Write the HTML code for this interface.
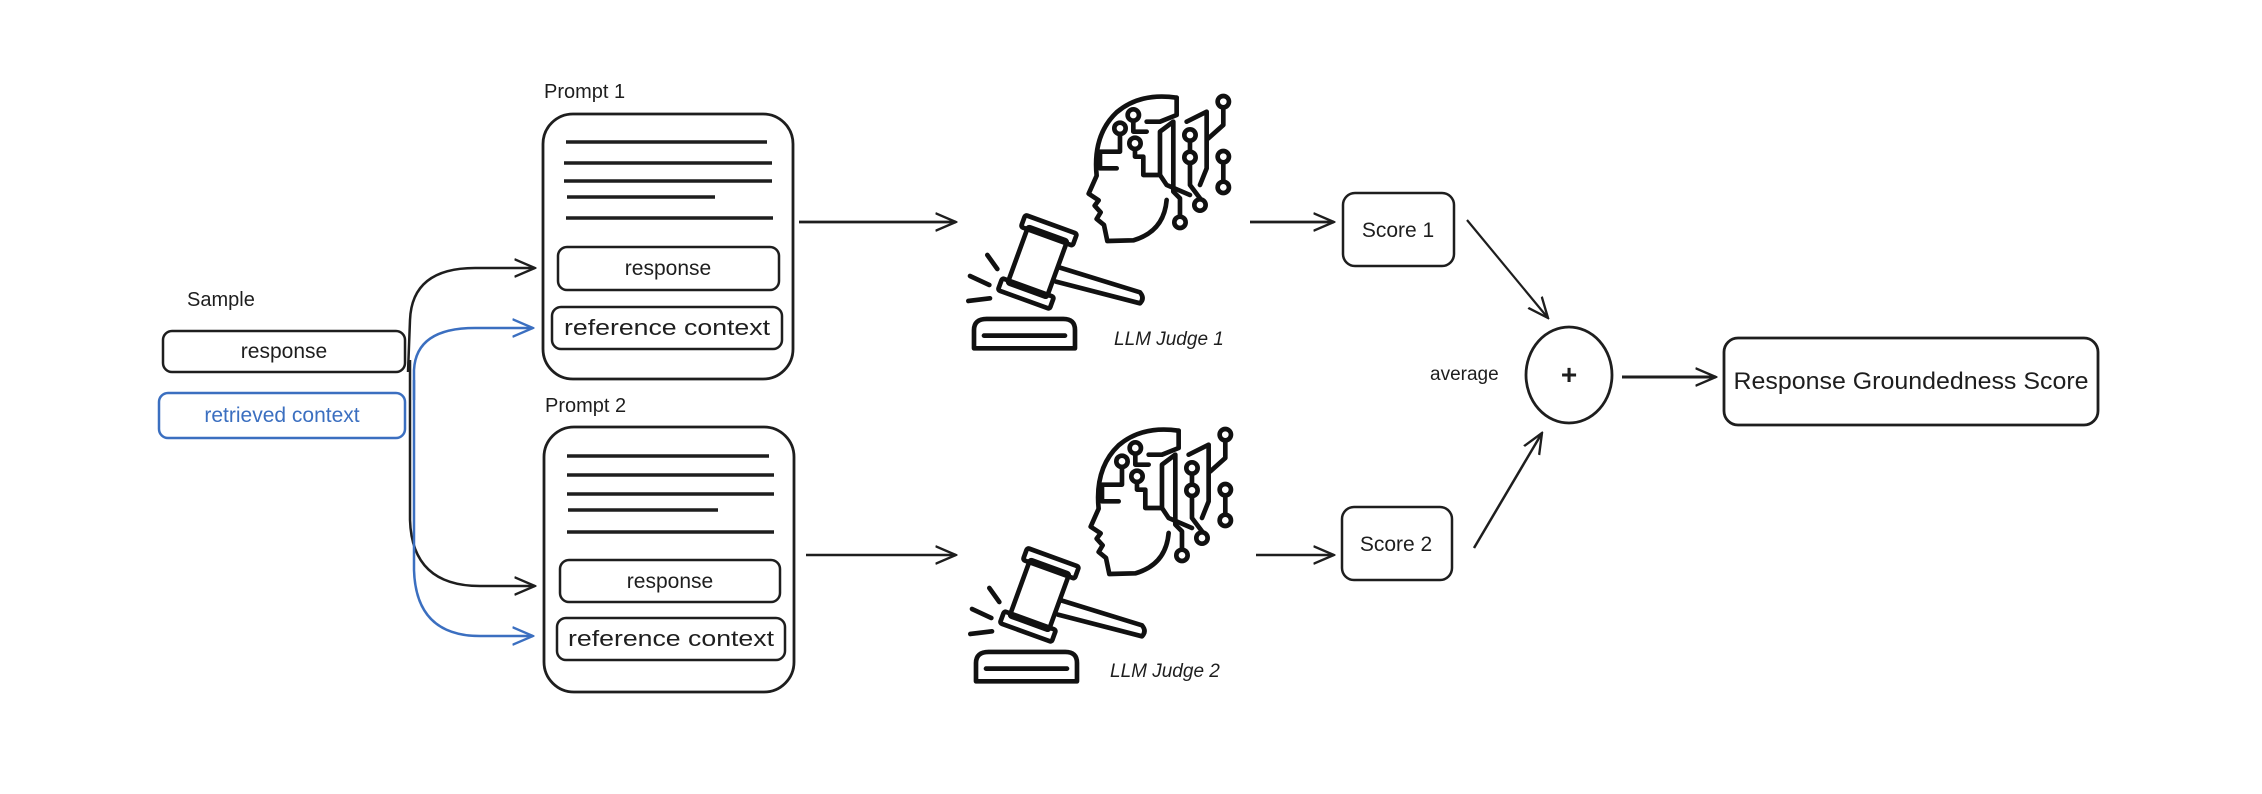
<!DOCTYPE html>
<html><head><meta charset="utf-8"><style>
html,body{margin:0;padding:0;background:#fff;}
svg{display:block;}
text{font-family:"Liberation Sans",sans-serif;fill:#1e1e1e;}
</style></head><body>
<svg width="2262" height="794" viewBox="0 0 2262 794" xmlns="http://www.w3.org/2000/svg">
<defs>
<g id="icons">
  <g fill="none" stroke="#111" stroke-width="14" stroke-linecap="round" stroke-linejoin="round">
    <path d="M620 345 Q612 440 520 466 L442 468 L432 420 L410 402 L422 382 L404 362 L416 346 L386 326 L410 272 Q398 150 470 82 Q540 22 650 38"/>
    <path d="M650 38 L650 90 L600 110 L560 110"/>
    <circle cx="520" cy="90" r="17"/>
    <path d="M520 107 L520 140 L560 140"/>
    <circle cx="480" cy="130" r="17"/>
    <path d="M480 147 L480 200 L420 200 L420 250 L470 250"/>
    <circle cx="525" cy="175" r="17"/>
    <path d="M525 192 L525 215 L550 215 L550 270 L600 270 L600 140 L640 110 L640 320 L660 340 L660 395"/>
    <circle cx="660" cy="412" r="17"/>
    <path d="M600 270 L620 300 L690 330"/>
    <circle cx="690" cy="150" r="17"/>
    <path d="M690 167 L690 200"/>
    <circle cx="690" cy="217" r="17"/>
    <path d="M690 234 L690 300 L720 340"/>
    <circle cx="720" cy="360" r="17"/>
    <path d="M680 110 L740 80 L740 250 L720 300"/>
    <circle cx="790" cy="50" r="17"/>
    <path d="M790 67 L790 120 L745 160"/>
    <circle cx="790" cy="215" r="17"/>
    <path d="M790 232 L790 290"/>
    <circle cx="790" cy="307" r="17"/>
  </g>
  <g fill="none" stroke="#111" stroke-width="14" stroke-linecap="round" stroke-linejoin="round">
    <g transform="rotate(20 230 530)">
      <rect x="170" y="440" width="125" height="180" rx="6"/>
      <rect x="150" y="410" width="165" height="38" rx="6"/>
      <rect x="150" y="612" width="165" height="38" rx="6"/>
    </g>
    <path d="M300 548 L540 622 Q555 640 540 655 L288 590"/>
    <path d="M82 510 L112 552"/>
    <path d="M30 573 L88 600"/>
    <path d="M25 648 L90 640"/>
    <path d="M42 790 L42 735 Q42 702 80 702 L310 702 Q345 702 345 735 L345 790 Z"/>
    <path d="M72 752 L315 752"/>
  </g>
</g>
<marker id="ahl" viewBox="0 0 30 30" refX="28" refY="15" markerWidth="22" markerHeight="22" markerUnits="userSpaceOnUse" orient="auto">
  <path d="M0 3 L28 15 L0 27" fill="none" stroke="context-stroke" stroke-width="3.2"/>
</marker>
<marker id="ahk" viewBox="0 0 30 30" refX="28" refY="15" markerWidth="22" markerHeight="22" markerUnits="userSpaceOnUse" orient="auto">
  <path d="M0 3 L28 15 L0 27" fill="none" stroke="#1e1e1e" stroke-width="3.2"/>
</marker>
<marker id="ahb" viewBox="0 0 30 30" refX="28" refY="15" markerWidth="22" markerHeight="22" markerUnits="userSpaceOnUse" orient="auto">
  <path d="M0 3 L28 15 L0 27" fill="none" stroke="#3b6fc0" stroke-width="3.2"/>
</marker>
</defs>

<text x="187" y="306" font-size="20">Sample</text>
<rect x="163" y="331" width="242" height="41" rx="9" fill="none" stroke="#1e1e1e" stroke-width="2.5"/>
<text x="284" y="358" font-size="21" text-anchor="middle">response</text>
<rect x="159" y="393" width="246" height="45" rx="9" fill="none" stroke="#3b6fc0" stroke-width="2.5"/>
<text x="282" y="422" font-size="21" text-anchor="middle" style="fill:#3b6fc0">retrieved context</text>

<path d="M408 372 L410 320 Q412 268 475 268 L535 268" fill="none" stroke="#1e1e1e" stroke-width="2.5" marker-end="url(#ahk)"/>
<path d="M410 360 L410 520 Q412 586 480 586 L535 586" fill="none" stroke="#1e1e1e" stroke-width="2.5" marker-end="url(#ahk)"/>
<path d="M414 400 L414 370 Q416 328 475 328 L533 328" fill="none" stroke="#3b6fc0" stroke-width="2.5" marker-end="url(#ahb)"/>
<path d="M414 380 L414 570 Q416 636 480 636 L533 636" fill="none" stroke="#3b6fc0" stroke-width="2.5" marker-end="url(#ahb)"/>

<text x="544" y="98" font-size="20">Prompt 1</text>
<rect x="543" y="114" width="250" height="265" rx="30" fill="none" stroke="#1e1e1e" stroke-width="2.8"/>
<g stroke="#1e1e1e" stroke-width="3.5">
<line x1="566" y1="142" x2="767" y2="142"/>
<line x1="564" y1="163" x2="772" y2="163"/>
<line x1="564" y1="181" x2="772" y2="181"/>
<line x1="567" y1="197" x2="715" y2="197"/>
<line x1="566" y1="218" x2="773" y2="218"/>
</g>
<rect x="558" y="247" width="221" height="43" rx="9" fill="none" stroke="#1e1e1e" stroke-width="2.5"/>
<text x="668" y="275" font-size="21" text-anchor="middle">response</text>
<rect x="552" y="307" width="230" height="42" rx="9" fill="none" stroke="#1e1e1e" stroke-width="2.5"/>
<text x="667" y="335" font-size="22" text-anchor="middle" textLength="206" lengthAdjust="spacingAndGlyphs">reference context</text>

<text x="545" y="412" font-size="20">Prompt 2</text>
<rect x="544" y="427" width="250" height="265" rx="30" fill="none" stroke="#1e1e1e" stroke-width="2.8"/>
<g stroke="#1e1e1e" stroke-width="3.5">
<line x1="567" y1="456" x2="769" y2="456"/>
<line x1="567" y1="475" x2="774" y2="475"/>
<line x1="567" y1="494" x2="774" y2="494"/>
<line x1="568" y1="510" x2="718" y2="510"/>
<line x1="567" y1="532" x2="774" y2="532"/>
</g>
<rect x="560" y="560" width="220" height="42" rx="9" fill="none" stroke="#1e1e1e" stroke-width="2.5"/>
<text x="670" y="588" font-size="21" text-anchor="middle">response</text>
<rect x="557" y="618" width="228" height="42" rx="9" fill="none" stroke="#1e1e1e" stroke-width="2.5"/>
<text x="671" y="646" font-size="22" text-anchor="middle" textLength="206" lengthAdjust="spacingAndGlyphs">reference context</text>

<line x1="799" y1="222" x2="956" y2="222" stroke="#1e1e1e" stroke-width="2.8" marker-end="url(#ahk)"/>
<line x1="806" y1="555" x2="956" y2="555" stroke="#1e1e1e" stroke-width="2.5" marker-end="url(#ahk)"/>

<g transform="translate(960,85) scale(0.3333)"><use href="#icons"/></g>
<g transform="translate(962,418) scale(0.3333)"><use href="#icons"/></g>
<text x="1114" y="345" font-size="19" font-style="italic">LLM Judge 1</text>
<text x="1110" y="677" font-size="19" font-style="italic">LLM Judge 2</text>

<line x1="1250" y1="222" x2="1334" y2="222" stroke="#1e1e1e" stroke-width="2.8" marker-end="url(#ahk)"/>
<line x1="1256" y1="555" x2="1334" y2="555" stroke="#1e1e1e" stroke-width="2.5" marker-end="url(#ahk)"/>

<rect x="1343" y="193" width="111" height="73" rx="12" fill="none" stroke="#1e1e1e" stroke-width="2.5"/>
<text x="1398" y="237" font-size="21" text-anchor="middle">Score 1</text>
<rect x="1342" y="507" width="110" height="73" rx="12" fill="none" stroke="#1e1e1e" stroke-width="2.5"/>
<text x="1396" y="551" font-size="21" text-anchor="middle">Score 2</text>

<line x1="1467" y1="220" x2="1548" y2="318" stroke="#1e1e1e" stroke-width="2.2" marker-end="url(#ahk)"/>
<line x1="1474" y1="548" x2="1542" y2="433" stroke="#1e1e1e" stroke-width="2.5" marker-end="url(#ahk)"/>

<ellipse cx="1569" cy="375" rx="43" ry="48" fill="none" stroke="#1e1e1e" stroke-width="2.8"/>
<text x="1569" y="384" font-size="28" font-weight="bold" text-anchor="middle">+</text>
<text x="1430" y="380" font-size="19">average</text>

<line x1="1622" y1="377" x2="1716" y2="377" stroke="#1e1e1e" stroke-width="3" marker-end="url(#ahk)"/>
<rect x="1724" y="338" width="374" height="87" rx="14" fill="none" stroke="#1e1e1e" stroke-width="2.8"/>
<text x="1911" y="389" font-size="24" text-anchor="middle" textLength="355" lengthAdjust="spacingAndGlyphs">Response Groundedness Score</text>
</svg>
</body></html>
